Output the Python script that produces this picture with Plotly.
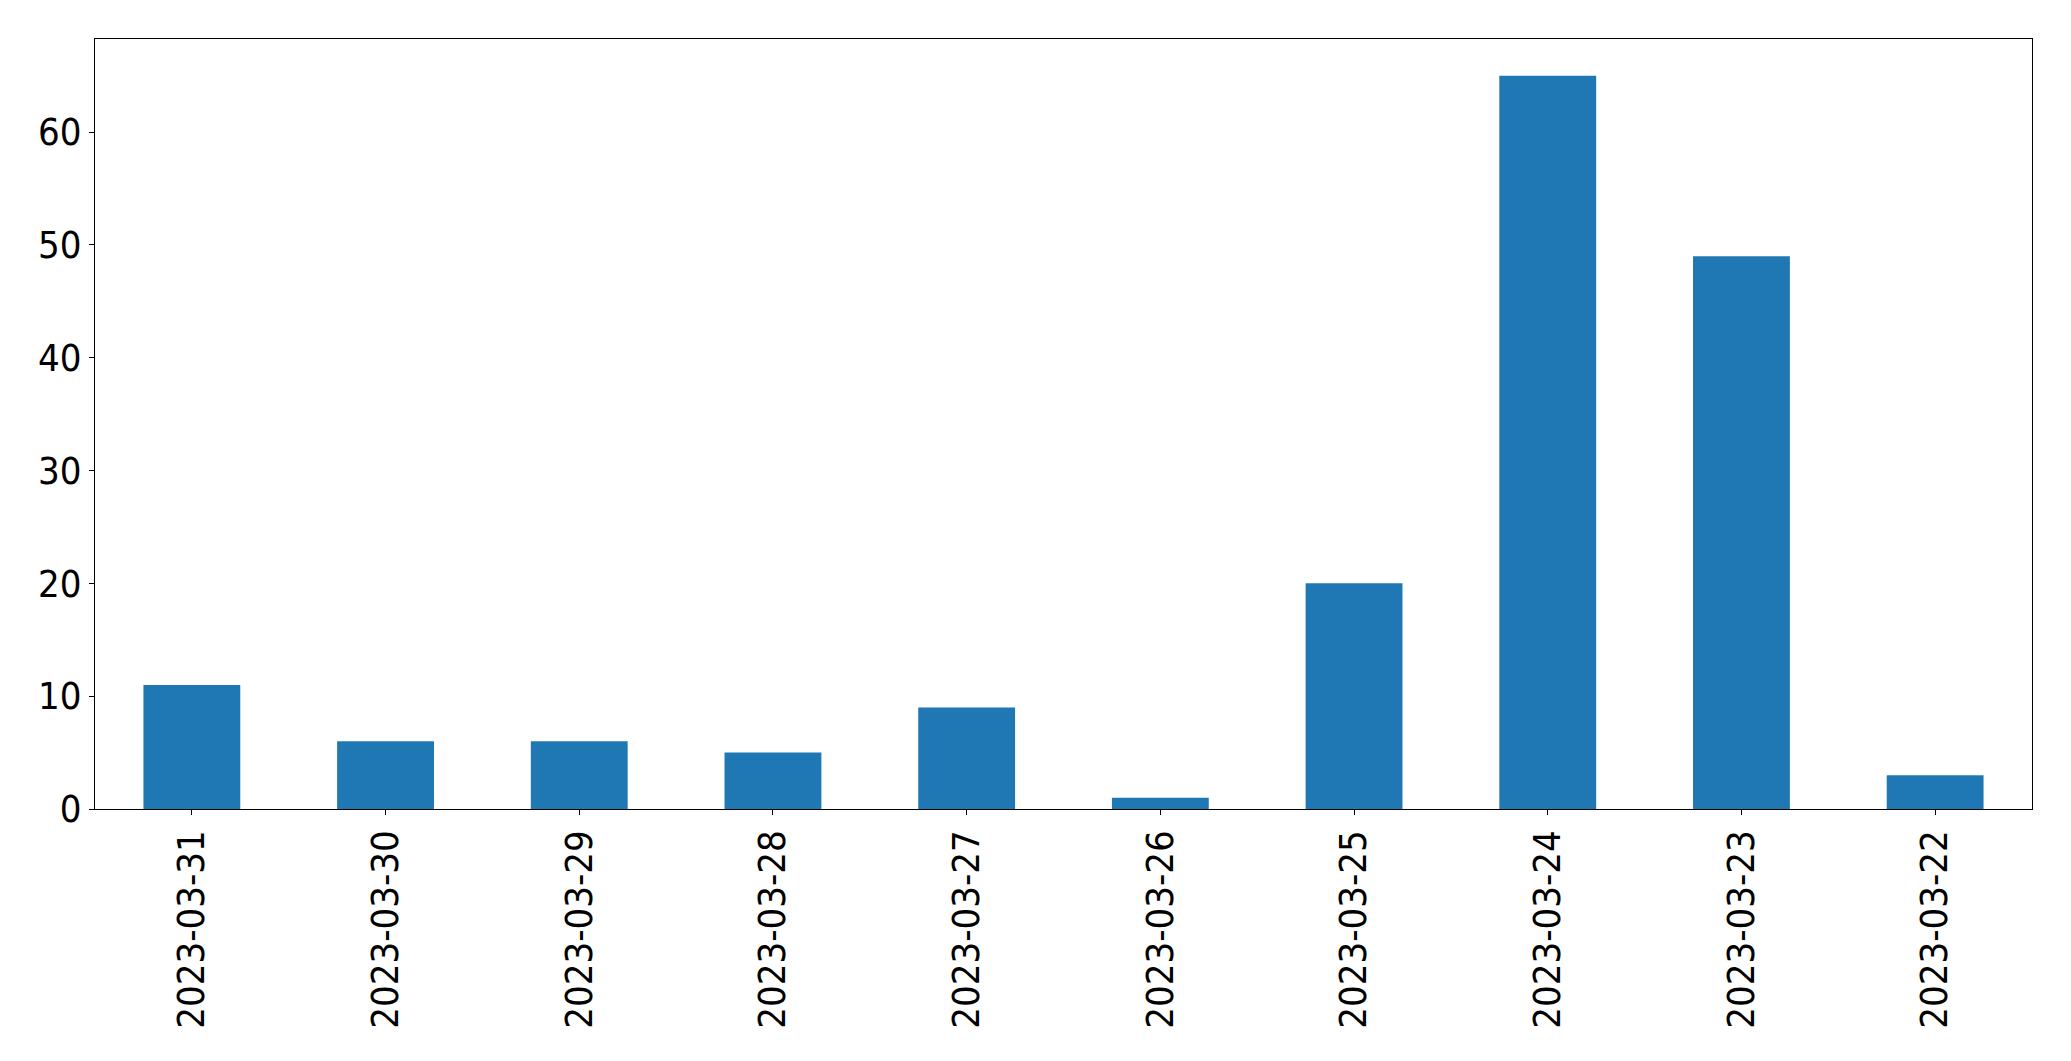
import plotly.graph_objects as go

dates = ["2023-03-31", "2023-03-30", "2023-03-29", "2023-03-28", "2023-03-27",
         "2023-03-26", "2023-03-25", "2023-03-24", "2023-03-23", "2023-03-22"]
counts = [11, 6, 6, 5, 9, 1, 20, 65, 49, 3]

fig = go.Figure(
    go.Bar(
        x=list(range(len(dates))),
        y=counts,
        width=0.5,
        marker=dict(color="#1f77b4", line=dict(width=0)),
    )
)

axis_style = dict(
    showline=True,
    linecolor="black",
    linewidth=1,
    mirror=True,
    showgrid=False,
    zeroline=False,
    ticks="outside",
    ticklen=5,
    tickwidth=1,
    tickcolor="black",
    tickfont=dict(family="DejaVu Sans Condensed, DejaVu Sans", size=38, color="black"),
)

fig.update_xaxes(
    range=[-0.5, len(dates) - 0.5],
    tickmode="array",
    tickvals=list(range(len(dates))),
    ticktext=dates,
    tickangle=-90,
    **axis_style,
)
fig.update_yaxes(
    range=[0, 68.25],
    tickmode="array",
    tickvals=[0, 10, 20, 30, 40, 50, 60],
    **axis_style,
)

fig.update_layout(
    width=2071,
    height=1061,
    margin=dict(l=95, r=39, t=39, b=252),
    plot_bgcolor="white",
    paper_bgcolor="white",
    showlegend=False,
)

# drop the browser's default body margin so the figure sits at the page corner
fig.write_html(
    "out.html",
    config={"displayModeBar": False},
    post_script="document.body.style.margin='0';document.body.style.overflow='hidden';",
)
